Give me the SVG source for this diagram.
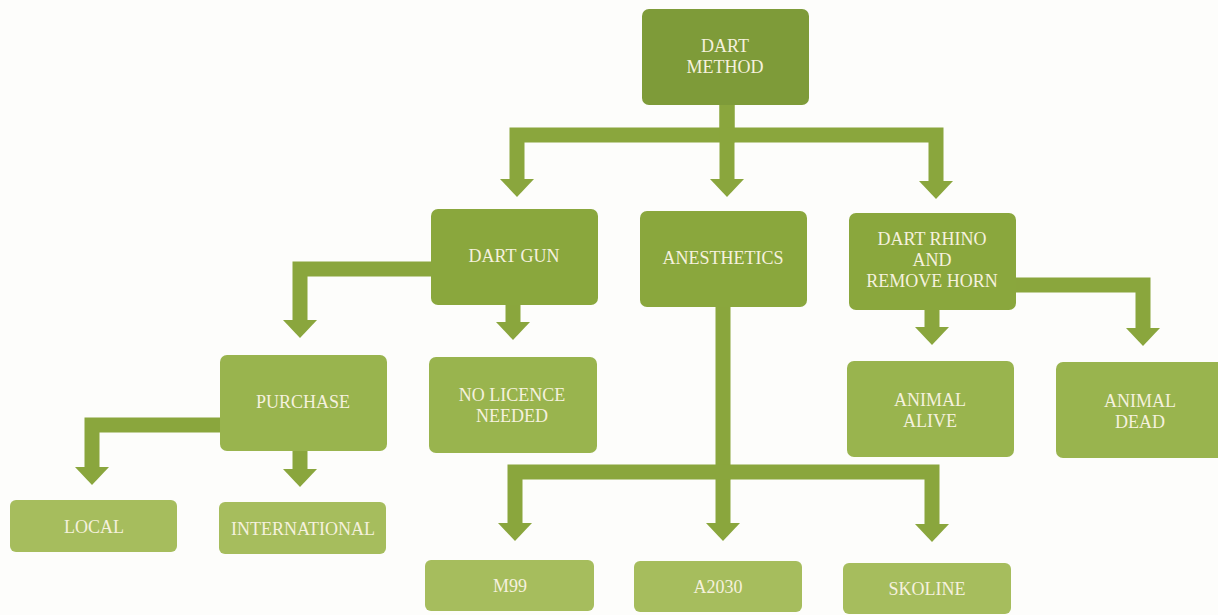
<svg xmlns="http://www.w3.org/2000/svg" width="1218" height="615" viewBox="0 0 1218 615">
<style>
.t{font-family:"Liberation Serif","Times New Roman",serif;font-size:18px;fill:#f5f1de;text-anchor:middle}
.c{fill:none;stroke:#8aa63d;stroke-width:15;stroke-linejoin:miter}
.l1{fill:#7e9b39}
.l2{fill:#8aa73d}
.l3{fill:#99b44e}
.l4{fill:#a6bd5d}
</style>
<defs>
<marker id="ah" markerUnits="userSpaceOnUse" viewBox="0 0 18 34" markerWidth="18" markerHeight="34" refX="0" refY="17" orient="auto">
<path d="M0,0 L18,17 L0,34 z" fill="#8aa63d"/>
</marker>
</defs>
<rect width="1218" height="615" fill="#fdfdfb"/>
<g id="connectors">
<path class="c" d="M727,105 V135 H517 V179" marker-end="url(#ah)"/>
<path class="c" d="M727,105 V179" marker-end="url(#ah)"/>
<path class="c" d="M727,135 H936 V181" marker-end="url(#ah)"/>
<path class="c" d="M431,269 H300 V320" marker-end="url(#ah)"/>
<path class="c" d="M513,305 V322" marker-end="url(#ah)"/>
<path class="c" d="M723,307 V472 H515 V523" marker-end="url(#ah)"/>
<path class="c" d="M723,472 V523" marker-end="url(#ah)"/>
<path class="c" d="M723,472 H932 V524" marker-end="url(#ah)"/>
<path class="c" d="M932,310 V327" marker-end="url(#ah)"/>
<path class="c" d="M1016,285 H1143 V328" marker-end="url(#ah)"/>
<path class="c" d="M220,425 H92 V467" marker-end="url(#ah)"/>
<path class="c" d="M300,451 V469" marker-end="url(#ah)"/>
</g>
<g id="dart-method"><rect class="l1" x="642" y="9" width="167" height="96" rx="7"/><text class="t" x="725" y="52">DART</text><text class="t" x="725" y="73">METHOD</text></g>
<g id="dart-gun"><rect class="l2" x="431" y="209" width="167" height="96" rx="7"/><text class="t" x="514" y="262">DART GUN</text></g>
<g id="anesthetics"><rect class="l2" x="640" y="211" width="167" height="96" rx="7"/><text class="t" x="723" y="264">ANESTHETICS</text></g>
<g id="dart-rhino"><rect class="l2" x="849" y="213" width="167" height="97" rx="7"/><text class="t" x="932" y="245">DART RHINO</text><text class="t" x="932" y="266">AND</text><text class="t" x="932" y="287">REMOVE HORN</text></g>
<g id="purchase"><rect class="l3" x="220" y="355" width="167" height="96" rx="7"/><text class="t" x="303" y="408">PURCHASE</text></g>
<g id="no-licence"><rect class="l3" x="429" y="357" width="168" height="96" rx="7"/><text class="t" x="512" y="401">NO LICENCE</text><text class="t" x="512" y="422">NEEDED</text></g>
<g id="animal-alive"><rect class="l3" x="847" y="361" width="167" height="96" rx="7"/><text class="t" x="930" y="406">ANIMAL</text><text class="t" x="930" y="427">ALIVE</text></g>
<g id="animal-dead"><rect class="l3" x="1056" y="362" width="170" height="96" rx="7"/><text class="t" x="1140" y="407">ANIMAL</text><text class="t" x="1140" y="428">DEAD</text></g>
<g id="local"><rect class="l4" x="10" y="500" width="167" height="52" rx="6"/><text class="t" x="94" y="533">LOCAL</text></g>
<g id="international"><rect class="l4" x="219" y="502" width="167" height="52" rx="6"/><text class="t" x="303" y="535">INTERNATIONAL</text></g>
<g id="m99"><rect class="l4" x="425" y="560" width="169" height="51" rx="6"/><text class="t" x="510" y="592">M99</text></g>
<g id="a2030"><rect class="l4" x="634" y="561" width="168" height="51" rx="6"/><text class="t" x="718" y="593">A2030</text></g>
<g id="skoline"><rect class="l4" x="843" y="563" width="168" height="51" rx="6"/><text class="t" x="927" y="595">SKOLINE</text></g>
</svg>
